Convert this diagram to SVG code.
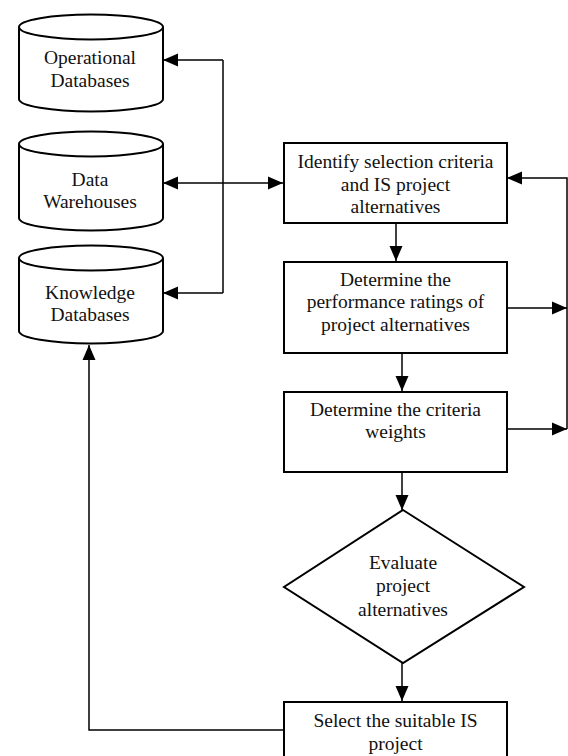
<svg xmlns="http://www.w3.org/2000/svg" width="568" height="756" viewBox="0 0 568 756">
<style>
.shape{fill:#fff;stroke:#000;stroke-width:2}
.line{fill:none;stroke:#000;stroke-width:1.5}
text{font-family:'Times New Roman','Liberation Serif',Tinos,serif;font-size:19.5px;fill:#111;text-anchor:middle}
</style>
<defs>
<marker id="ah" markerUnits="userSpaceOnUse" markerWidth="16" markerHeight="14" refX="15" refY="7" orient="auto-start-reverse" viewBox="0 0 16 14">
<path d="M0,0.5 L15,7 L0,13.5 Z" fill="#000"/>
</marker>
</defs>
<rect width="568" height="756" fill="#fff"/>
<g id="operational-db">
<path class="shape" d="M19,27 A72,12.5 0 0 1 163,27 L163,99 A72,12.5 0 0 1 19,99 Z"/>
<path class="shape" d="M19,27 A72,12.5 0 0 0 163,27" fill="none"/>
<text x="90" y="64">Operational</text>
<text x="90" y="87">Databases</text>
</g>
<g id="data-warehouses">
<path class="shape" d="M19,144 A72,12.5 0 0 1 163,144 L163,218 A72,12.5 0 0 1 19,218 Z"/>
<path class="shape" d="M19,144 A72,12.5 0 0 0 163,144" fill="none"/>
<text x="90" y="186">Data</text>
<text x="90" y="208">Warehouses</text>
</g>
<g id="knowledge-db">
<path class="shape" d="M19,258 A72,12.5 0 0 1 163,258 L163,331 A72,12.5 0 0 1 19,331 Z"/>
<path class="shape" d="M19,258 A72,12.5 0 0 0 163,258" fill="none"/>
<text x="90" y="299">Knowledge</text>
<text x="90" y="321">Databases</text>
</g>
<g id="identify">
<rect class="shape" x="284" y="143" width="223" height="80"/>
<text x="395.5" y="168">Identify selection criteria</text>
<text x="395.5" y="190.5">and IS project</text>
<text x="395.5" y="213">alternatives</text>
</g>
<g id="ratings">
<rect class="shape" x="284" y="262" width="223" height="91"/>
<text x="395.5" y="286">Determine the</text>
<text x="395.5" y="308">performance ratings of</text>
<text x="395.5" y="331">project alternatives</text>
</g>
<g id="weights">
<rect class="shape" x="284" y="392" width="223" height="80"/>
<text x="395.5" y="415.5">Determine the criteria</text>
<text x="395.5" y="438">weights</text>
</g>
<g id="evaluate">
<path class="shape" d="M403,510 L524,587 L403,663 L284,587 Z"/>
<text x="403" y="569">Evaluate</text>
<text x="403" y="592">project</text>
<text x="403" y="615.5">alternatives</text>
</g>
<g id="select">
<rect class="shape" x="284" y="702" width="223" height="60"/>
<text x="395.5" y="727">Select the suitable IS</text>
<text x="395.5" y="749.5">project</text>
</g>
<g id="connectors">
<path class="line" d="M223,60 L223,293"/>
<path class="line" d="M223,60 L163,60" marker-end="url(#ah)"/>
<path class="line" d="M223,293 L163,293" marker-end="url(#ah)"/>
<path class="line" d="M163,183 L283,183" marker-start="url(#ah)" marker-end="url(#ah)"/>
<path class="line" d="M396,223 L396,261" marker-end="url(#ah)"/>
<path class="line" d="M402,353 L402,391" marker-end="url(#ah)"/>
<path class="line" d="M402,472 L402,510" marker-end="url(#ah)"/>
<path class="line" d="M402,663 L402,701" marker-end="url(#ah)"/>
<path class="line" d="M507,308 L567,308" marker-end="url(#ah)"/>
<path class="line" d="M507,429 L567,429" marker-end="url(#ah)"/>
<path class="line" d="M567,429 L567,178 L507,178" marker-end="url(#ah)"/>
<path class="line" d="M284,730 L89,730 L89,345" marker-end="url(#ah)"/>
</g>
</svg>
